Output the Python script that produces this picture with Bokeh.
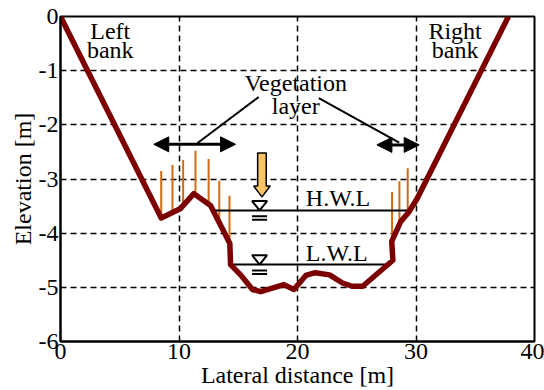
import numpy as np
from bokeh.plotting import figure
from bokeh.models import Arrow, NormalHead, FixedTicker, Range1d
from bokeh.embed import file_html
from bokeh.resources import INLINE
from bokeh.core.properties import value

# ---- data ----
profile_x = [0, 8.5, 10.1, 11.25, 12.66, 13.5, 14.29, 14.35, 15.2, 16.2, 16.9, 18.85, 19.7,
             20.7, 21.5, 22.7, 23.8, 24.6, 25.5, 28.05, 27.95, 28.7, 29.4, 30.1, 37.8]
profile_y = [0, -3.72, -3.55, -3.27, -3.49, -3.85, -4.19, -4.58, -4.77, -5.04, -5.08, -4.95, -5.04,
             -4.78, -4.73, -4.77, -4.92, -4.98, -4.98, -4.5, -4.15, -3.79, -3.61, -3.36, 0]

veg_x = [8.5, 9.45, 10.35, 11.39, 12.5, 13.4, 14.26, 27.98, 28.6, 29.3]
veg_top = [-2.85, -2.74, -2.65, -2.48, -2.63, -3.03, -3.31, -3.24, -3.04, -2.80]
veg_base = [-3.72, -3.62, -3.49, -3.29, -3.47, -3.81, -4.18, -4.2, -3.88, -3.64]

hwl = -3.58
hwl_x = [12.8, 29.4]
lwl = -4.58
lwl_x = [14.35, 27.9]
wl_symbol_x = 16.8

x_ticks = [0, 10, 20, 30, 40]
x_tick_labels = ["0", "10", "20", "30", "40"]
y_ticks = [0, -1, -2, -3, -4, -5, -6]
y_tick_labels = ["0", "-1", "-2", "-3", "-4", "-5", "-6"]

FONT = "Liberation Serif"
FS = "24px"

W, H = 544, 390
BL, BR, BT, BB = 60, 10, 16, 46
SX = (W - BL - BR) / 40.0
SY = (H - BT - BB) / 6.0


def pxu(d):
    return d / SX


def pyu(d):
    return d / SY


p = figure(width=W, height=H, x_range=Range1d(0, 40), y_range=Range1d(-6, 0),
           output_backend="svg", toolbar_location=None,
           min_border_left=BL, min_border_right=BR, min_border_top=BT, min_border_bottom=BB)
p.background_fill_color = "white"
p.border_fill_color = "white"
p.outline_line_color = "black"
p.outline_line_width = 2

p.xaxis.ticker = FixedTicker(ticks=x_ticks)
p.yaxis.ticker = FixedTicker(ticks=y_ticks)
p.xaxis.major_label_overrides = {t: s for t, s in zip(x_ticks, x_tick_labels)}
p.yaxis.major_label_overrides = {t: s for t, s in zip(y_ticks, y_tick_labels)}
p.xaxis.axis_label = "Lateral distance [m]"
p.yaxis.axis_label = "Elevation [m]"
for ax in (p.xaxis, p.yaxis):
    ax.axis_line_width = 2
    ax.axis_line_color = "black"
    ax.major_tick_in = 0
    ax.major_tick_out = 0
    ax.minor_tick_line_color = None
    ax.major_label_text_font = FONT
    ax.major_label_text_font_size = FS
    ax.major_label_text_color = "black"
    ax.axis_label_text_font = FONT
    ax.axis_label_text_font_size = FS
    ax.axis_label_text_font_style = "normal"
    ax.axis_label_text_color = "black"
    ax.major_label_standoff = 2
    ax.axis_label_standoff = 0

p.xgrid.ticker = FixedTicker(ticks=[10, 20, 30])
p.ygrid.ticker = FixedTicker(ticks=[-1, -2, -3, -4, -5])
for g in (p.xgrid, p.ygrid):
    g.grid_line_color = "black"
    g.grid_line_width = 1.5
    g.grid_line_dash = "6 4"

# vegetation stems
p.segment(x0=veg_x, y0=veg_base, x1=veg_x, y1=veg_top, line_color="#d06b10", line_width=2)

# water levels
p.line(x=hwl_x, y=[hwl, hwl], line_color="black", line_width=2)
p.line(x=lwl_x, y=[lwl, lwl], line_color="black", line_width=2)

# profile
p.line(x=profile_x, y=profile_y, line_color="#7d0000", line_width=5.5, line_join="round")

# water level symbols
for wl in (hwl, lwl):
    tx = [wl_symbol_x - pxu(7.5), wl_symbol_x + pxu(7.5), wl_symbol_x]
    ty = [wl + pyu(9.5), wl + pyu(9.5), wl]
    p.patch(tx, ty, fill_color="white", line_color="black", line_width=2)
    for d in (6, 9.5):
        p.line([wl_symbol_x - pxu(7.5), wl_symbol_x + pxu(7.5)], [wl - pyu(d), wl - pyu(d)],
               line_color="black", line_width=2)

# yellow arrow
ax_x, ax_top, ax_tip = 17.0, -2.52, -3.33
hw, hh, hl = pxu(4.3), pxu(8.3), pyu(11)
p.patch([ax_x - hw, ax_x + hw, ax_x + hw, ax_x + hh, ax_x, ax_x - hh, ax_x - hw],
        [ax_top, ax_top, ax_tip + hl, ax_tip + hl, ax_tip, ax_tip + hl, ax_tip + hl],
        fill_color="#f9c465", line_color="black", line_width=1.5)

# double arrows for vegetation layer
for x0, x1, yy in ((7.87, 14.77, -2.36), (26.7, 30.27, -2.37)):
    p.add_layout(Arrow(x_start=x0, y_start=yy, x_end=x1, y_end=yy, line_width=3, line_color="black",
                       start=NormalHead(size=15, fill_color="black", line_color="black"),
                       end=NormalHead(size=15, fill_color="black", line_color="black")))

# leader lines
p.segment(x0=[16.73, 21.8], y0=[-1.486, -1.505], x1=[11.54, 28.58], y1=[-2.34, -2.33],
          line_color="black", line_width=2)

# texts
labels = ["Left", "bank", "Right", "bank", "Vegetation", "layer"]
lx = [4.2, 4.2, 33.3, 33.3, 19.85, 19.85]
ly = [-0.41, -0.77, -0.41, -0.77, -1.37, -1.79]
shift = pyu(8)
p.text(x=lx, y=[v + shift for v in ly], text=labels, text_font=value(FONT), text_font_size=FS,
       text_align="center", text_baseline="alphabetic", text_color="black")
p.text(x=[20.7, 20.7], y=[-3.50 + shift, -4.52 + shift], text=["H.W.L", "L.W.L"],
       text_font=value(FONT), text_font_size=FS, text_align="left",
       text_baseline="alphabetic", text_color="black")

open("out.html", "w").write(file_html(p, INLINE))
